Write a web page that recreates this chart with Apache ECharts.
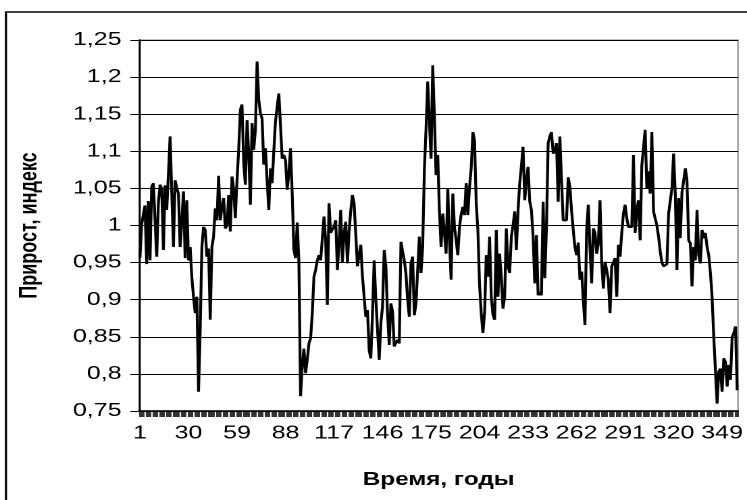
<!DOCTYPE html>
<html>
<head>
<meta charset="utf-8">
<script src="https://cdn.jsdelivr.net/npm/echarts@6/dist/echarts.min.js"></script>
<style>
html,body{margin:0;padding:0;background:#fff;overflow:hidden;}
#wrap{width:747px;height:500px;overflow:hidden;position:relative;background:#fff;}
#c{width:553px;height:500px;transform:scaleX(1.350814);transform-origin:0 0;}
</style>
</head>
<body>
<div id="wrap"><div id="c"></div></div>
<script>
var yTicks = ['0,75','0,8','0,85','0,9','0,95','1','1,05','1,1','1,15','1,2','1,25'];
var xTickLabels = ['1','30','59','88','117','146','175','204','233','262','291','320','349'];
var yTitle = 'Прирост, индекс';
var xTitle = 'Время, годы';
var titleTail = 'у';
var values = [
0.956,1.001,1.015,1.027,0.948,1.033,0.953,1.052,1.057,1.059,
0.958,1.030,1.055,1.050,0.967,1.054,1.021,1.070,1.120,1.045,
0.971,1.061,1.050,1.043,0.971,1.005,1.046,0.956,1.034,0.953,
0.971,0.930,0.904,0.882,0.904,0.776,0.859,0.971,0.998,0.994,
0.958,0.969,0.873,0.971,0.985,1.023,1.007,1.067,1.007,1.025,
1.037,0.996,1.000,1.041,0.992,1.066,1.050,1.010,1.061,1.102,
1.156,1.163,1.084,1.055,1.142,1.097,1.028,1.138,1.102,1.129,
1.221,1.170,1.151,1.144,1.082,1.104,1.060,1.021,1.077,1.057,
1.100,1.140,1.160,1.178,1.135,1.090,1.095,1.088,1.048,1.070,
1.104,1.043,0.967,0.956,1.004,0.951,0.770,0.810,0.834,0.801,
0.819,0.841,0.848,0.882,0.931,0.940,0.953,0.960,0.953,0.955,
1.012,0.980,0.893,1.030,0.990,0.995,0.998,1.007,0.940,0.976,
1.021,0.951,0.990,1.005,0.949,0.992,1.020,1.041,1.030,1.028,
0.945,0.960,0.974,0.931,0.904,0.877,0.886,0.832,0.821,0.882,
0.953,0.900,0.860,0.819,0.868,0.891,0.967,0.945,0.880,0.839,
0.895,0.884,0.837,0.842,0.846,0.841,0.978,0.965,0.953,0.935,
0.900,0.877,0.949,0.958,0.879,0.895,0.895,0.985,0.936,0.971,
1.075,1.130,1.194,1.140,1.090,1.216,1.147,1.068,1.095,1.020,
0.971,1.016,0.990,0.962,1.050,0.980,0.927,1.043,0.998,0.980,
0.960,0.998,1.015,1.025,1.014,1.057,1.014,1.052,1.077,1.126,
1.115,1.030,0.994,0.920,0.882,0.855,0.882,0.960,0.931,0.985,
0.904,0.880,0.873,0.994,0.904,0.962,0.930,0.888,0.904,0.996,
0.945,0.936,0.985,1.000,1.019,0.967,1.020,1.057,1.080,1.106,
1.034,1.060,1.079,1.032,1.021,0.985,0.922,0.987,0.906,0.910,
0.906,1.032,0.929,0.998,1.111,1.120,1.126,1.097,1.100,1.111,
1.032,1.120,1.060,1.007,1.007,1.007,1.065,1.052,1.020,0.994,
0.971,0.960,0.977,0.927,0.938,0.900,0.866,0.994,1.028,0.970,
0.922,0.996,0.990,0.962,0.975,1.034,0.950,0.915,0.951,0.940,
0.927,0.882,0.945,0.950,0.956,0.904,0.974,0.958,0.990,1.016,
1.028,1.010,0.998,0.998,0.998,1.095,0.990,1.020,1.034,0.980,
1.081,1.079,1.129,1.050,1.073,1.043,1.126,1.019,1.021,1.000,
0.985,0.965,0.950,0.945,0.945,0.948,1.016,1.014,1.050,1.097,
1.043,0.940,1.037,0.983,1.045,1.060,1.077,1.061,0.980,0.976,
0.918,0.971,0.953,1.021,0.960,0.949,0.994,0.983,0.990,0.971,
0.960,0.936,0.904,0.850,0.848,0.760,0.803,0.807,0.776,0.821,
0.816,0.783,0.812,0.792,0.850,0.855,0.864,0.778
];
var categories = values.map(function(_, i){ return String(i + 1); });

var chart = echarts.init(document.getElementById('c'), null, {renderer:'canvas', devicePixelRatio:2});
var FONT = 'Liberation Sans, Arial, sans-serif';
chart.setOption({
  animation: false,
  backgroundColor: '#ffffff',
  graphic: [
    {type:'rect', shape:{x:4.4, y:12, width:700, height:700}, style:{fill:'none', stroke:'#000', lineWidth:1.6}, z:0},
    {type:'text', x:430, y:-23, style:{text:titleTail, font:'bold 22px ' + FONT, fill:'#000'}, z:5}
  ],
  grid: {left:103, right:2, top:40, bottom:89, containLabel:false, show:true, borderColor:'#9a9a9a', borderWidth:1.2, backgroundColor:'transparent'},
  xAxis: {
    type:'category',
    data: categories,
    boundaryGap: true,
    name: xTitle,
    nameLocation: 'middle',
    nameGap: 60,
    nameTextStyle: {fontFamily: FONT, fontWeight:'bold', fontSize:18, color:'#000'},
    axisLine: {show:true, lineStyle:{color:'#000', width:1.5}},
    axisTick: {show:true, interval:0, length:6, inside:false, lineStyle:{color:'#000', width:0.8}},
    axisLabel: {
      interval: function(idx, val){ return xTickLabels.indexOf(val) >= 0; },
      margin: 13, fontFamily: FONT, fontSize:18.5, color:'#000'
    },
    splitLine: {show:false}
  },
  yAxis: {
    type:'value',
    min:0.75, max:1.25, interval:0.05,
    name: yTitle,
    nameLocation: 'middle',
    nameGap: 72,
    nameRotate: 90,
    nameTextStyle: {fontFamily: FONT, fontWeight:'bold', fontSize:18, color:'#000'},
    axisLine: {show:true, lineStyle:{color:'#000', width:1.4}},
    axisTick: {show:true, length:6.5, inside:false, lineStyle:{color:'#000', width:1}},
    axisLabel: {
      margin: 13, fontFamily: FONT, fontSize:18.5, color:'#000',
      formatter: function(v){ var k = Math.round((v - 0.75) / 0.05); return yTicks[k]; }
    },
    splitLine: {show:true, lineStyle:{color:'#000', width:1}}
  },
  series: [{
    type:'line',
    data: values,
    symbol:'none',
    lineStyle:{color:'#000', width:2.1},
    z:3
  }]
});
</script>
</body>
</html>
